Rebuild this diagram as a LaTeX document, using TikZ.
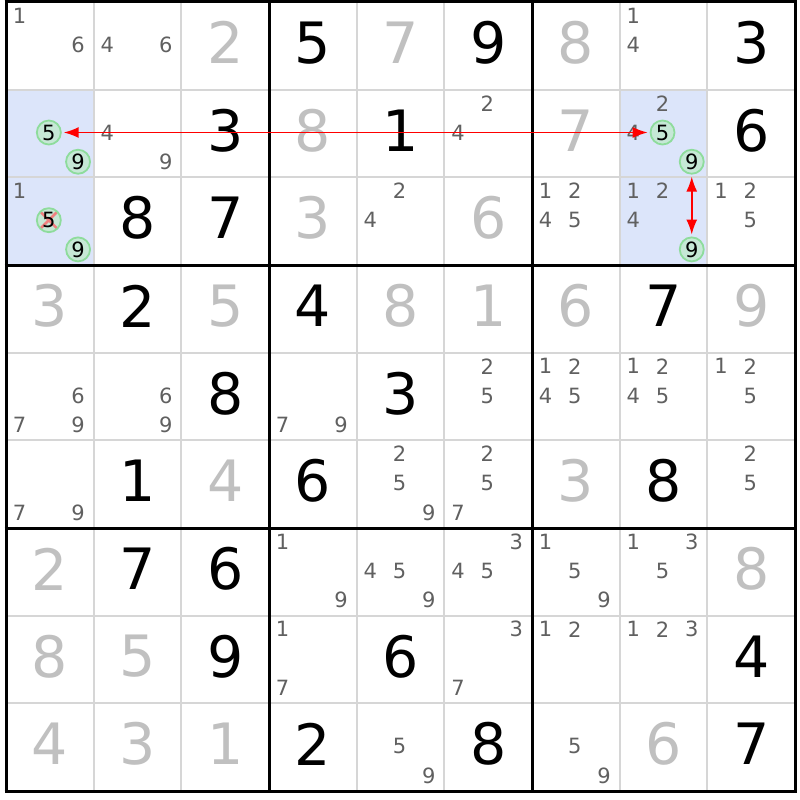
\documentclass[tikz,border=0pt]{standalone}
\usepackage{fontspec}
\setmainfont{DejaVu Sans}
\usepackage{xcolor}
\usepackage{tikz}
\usetikzlibrary{arrows.meta}

\definecolor{givgray}{HTML}{C0C0C0}
\definecolor{candgray}{HTML}{606060}
\definecolor{gridgray}{HTML}{D6D6D6}
\definecolor{hlblue}{HTML}{DCE5FA}
\definecolor{hitfill}{HTML}{C6E8D6}
\definecolor{hitline}{HTML}{8EDC9C}
\definecolor{xred}{HTML}{F08080}

\newcommand{\sz}{87.67}
% big digit in cell (row, col)
\newcommand{\giv}[4]{\node[#4] (g#1#2) at ({6+(#2+0.5)*\sz},{2+(#1+0.5)*\sz-3}) {#3};}
% pencil marks of a cell
\newcommand{\cands}[3]{%
  \foreach \d in {#3}{%
    \pgfmathsetmacro\cx{6+#2*\sz+(mod(\d-1,3)+0.5)*\sz/3-1}%
    \pgfmathsetmacro\cy{2+#1*\sz+(int((\d-1)/3)+0.5)*\sz/3-1}%
    \node[cand] (k#1#2\d) at (\cx,\cy) {\d};}}
% circled pencil mark
\newcommand{\hitc}[5]{%
  \pgfmathsetmacro\cx{6+#3*\sz+(mod(#4-1,3)+0.5)*\sz/3-1}%
  \pgfmathsetmacro\cy{2+#2*\sz+(int((#4-1)/3)+0.5)*\sz/3-1}%
  \node[hit,#5] (#1) at (\cx,\cy) {#4};}

\begin{document}
\begin{tikzpicture}[x=1pt,y=-1pt]
    \tikzstyle{bigb}=[inner sep=0,font=\fontsize{57}{57}\selectfont,text=black]
    \tikzstyle{bigg}=[bigb,text=givgray]
    \tikzstyle{cand}=[inner sep=0,font=\fontsize{21}{21}\selectfont,text=candgray]
    \tikzstyle{hit}=[circle,draw=hitline,line width=1.8pt,fill=hitfill,minimum size=24pt,
      inner sep=0,font=\fontsize{21}{21}\selectfont,text=black]
    \tikzstyle{xout}=[path picture={\draw[xred,line width=2.5pt]
      ([shift={(-8pt,-8pt)}]path picture bounding box.center) -- ([shift={(8pt,8pt)}]path picture bounding box.center)
      ([shift={(-8pt,8pt)}]path picture bounding box.center) -- ([shift={(8pt,-8pt)}]path picture bounding box.center);}]
    \tikzstyle{arr}=[red,line width=1.5pt,{Latex[length=15pt,width=11pt]}-{Latex[length=15pt,width=11pt]},
      shorten <=2pt,shorten >=2pt]

    \useasboundingbox (0,0) rectangle (800,800);
    \fill[white] (0,0) rectangle (800,800);

    % highlighted cells
    \fill[hlblue] (6,{2+\sz}) rectangle ({6+\sz},{2+3*\sz});
    \fill[hlblue] ({6+7*\sz},{2+\sz}) rectangle ({6+8*\sz},{2+3*\sz});

    % grid
    \foreach \i in {1,2,4,5,7,8} {
      \draw[gridgray,line width=2pt] ({6+\i*\sz},2) -- ({6+\i*\sz},{2+9*\sz});
      \draw[gridgray,line width=2pt] (6,{2+\i*\sz}) -- ({6+9*\sz},{2+\i*\sz});
    }
    \foreach \i in {0,3,6,9} {
      \draw[black,line width=3pt] ({6+\i*\sz},0.5) -- ({6+\i*\sz},{3.5+9*\sz});
      \draw[black,line width=3pt] (4.5,{2+\i*\sz}) -- ({7.5+9*\sz},{2+\i*\sz});
    }

    % row 0
    \cands{0}{0}{1,6} \cands{0}{1}{4,6} \giv{0}{2}{2}{bigg} \giv{0}{3}{5}{bigb} \giv{0}{4}{7}{bigg}
    \giv{0}{5}{9}{bigb} \giv{0}{6}{8}{bigg} \cands{0}{7}{1,4} \giv{0}{8}{3}{bigb}
    % row 1
    \hitc{a5}{1}{0}{5}{} \hitc{a9}{1}{0}{9}{} \cands{1}{1}{4,9} \giv{1}{2}{3}{bigb} \giv{1}{3}{8}{bigg}
    \giv{1}{4}{1}{bigb} \cands{1}{5}{2,4} \giv{1}{6}{7}{bigg}
    \cands{1}{7}{2,4} \hitc{b5}{1}{7}{5}{} \hitc{b9}{1}{7}{9}{} \giv{1}{8}{6}{bigb}
    % row 2
    \cands{2}{0}{1} \hitc{c5}{2}{0}{5}{xout} \hitc{c9}{2}{0}{9}{} \giv{2}{1}{8}{bigb} \giv{2}{2}{7}{bigb}
    \giv{2}{3}{3}{bigg} \cands{2}{4}{2,4} \giv{2}{5}{6}{bigg} \cands{2}{6}{1,2,4,5}
    \cands{2}{7}{1,2,4} \hitc{d9}{2}{7}{9}{} \cands{2}{8}{1,2,5}
    % row 3
    \giv{3}{0}{3}{bigg} \giv{3}{1}{2}{bigb} \giv{3}{2}{5}{bigg} \giv{3}{3}{4}{bigb} \giv{3}{4}{8}{bigg}
    \giv{3}{5}{1}{bigg} \giv{3}{6}{6}{bigg} \giv{3}{7}{7}{bigb} \giv{3}{8}{9}{bigg}
    % row 4
    \cands{4}{0}{6,7,9} \cands{4}{1}{6,9} \giv{4}{2}{8}{bigb} \cands{4}{3}{7,9} \giv{4}{4}{3}{bigb}
    \cands{4}{5}{2,5} \cands{4}{6}{1,2,4,5} \cands{4}{7}{1,2,4,5} \cands{4}{8}{1,2,5}
    % row 5
    \cands{5}{0}{7,9} \giv{5}{1}{1}{bigb} \giv{5}{2}{4}{bigg} \giv{5}{3}{6}{bigb} \cands{5}{4}{2,5,9}
    \cands{5}{5}{2,5,7} \giv{5}{6}{3}{bigg} \giv{5}{7}{8}{bigb} \cands{5}{8}{2,5}
    % row 6
    \giv{6}{0}{2}{bigg} \giv{6}{1}{7}{bigb} \giv{6}{2}{6}{bigb} \cands{6}{3}{1,9} \cands{6}{4}{4,5,9}
    \cands{6}{5}{3,4,5} \cands{6}{6}{1,5,9} \cands{6}{7}{1,3,5} \giv{6}{8}{8}{bigg}
    % row 7
    \giv{7}{0}{8}{bigg} \giv{7}{1}{5}{bigg} \giv{7}{2}{9}{bigb} \cands{7}{3}{1,7} \giv{7}{4}{6}{bigb}
    \cands{7}{5}{3,7} \cands{7}{6}{1,2} \cands{7}{7}{1,2,3} \giv{7}{8}{4}{bigb}
    % row 8
    \giv{8}{0}{4}{bigg} \giv{8}{1}{3}{bigg} \giv{8}{2}{1}{bigg} \giv{8}{3}{2}{bigb} \cands{8}{4}{5,9}
    \giv{8}{5}{8}{bigb} \cands{8}{6}{5,9} \giv{8}{7}{6}{bigg} \giv{8}{8}{7}{bigb}

    % links
    \draw[arr] (a5) -- (b5);
    \draw[arr] (b9) -- (d9);
\end{tikzpicture}
\end{document}
